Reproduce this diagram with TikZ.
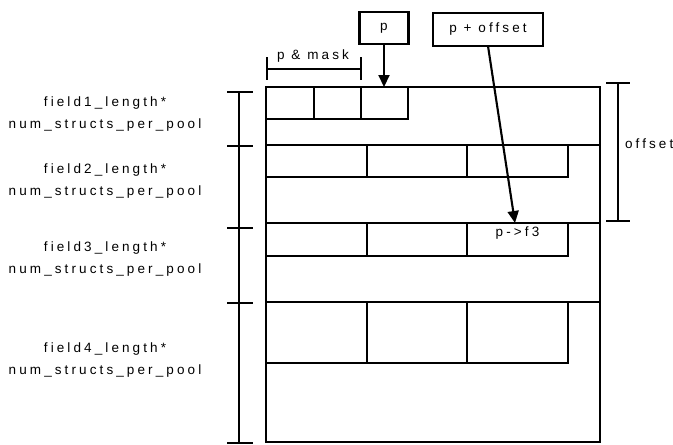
\documentclass[tikz,border=0pt]{standalone}
\usepackage{fontspec}
\setmainfont{Liberation Sans}[LetterSpace=23]
\usetikzlibrary{arrows.meta}
\begin{document}
\begin{tikzpicture}[x=1pt,y=-1pt,line width=2.1pt,
  cell/.style={draw,rectangle,inner sep=0pt,outer sep=0pt,anchor=north west},
  lbl/.style={font=\fontsize{13.5}{22}\selectfont,align=center,inner sep=0pt},
  ptr/.style={draw,rectangle,inner sep=0pt,outer sep=0pt,font=\fontsize{13.5}{15}\selectfont},
  arr/.style={-{Triangle[length=12pt,width=11pt]},line width=2.1pt}]
\useasboundingbox (0,0) rectangle (673,445);
% field regions
\node[cell,minimum width=334pt,minimum height=58pt] (f1) at (266,87) {};
\node[cell,minimum width=334pt,minimum height=78pt] (f2) at (266,145) {};
\node[cell,minimum width=334pt,minimum height=79pt] (f3) at (266,223) {};
\node[cell,minimum width=334pt,minimum height=140pt] (f4) at (266,302) {};
% field 1 cells
\node[cell,minimum width=48pt,minimum height=32pt] (a1) at (266,87) {};
\node[cell,minimum width=47pt,minimum height=32pt] (a2) at (314,87) {};
\node[cell,minimum width=47pt,minimum height=32pt] (a3) at (361,87) {};
% field 2 cells
\node[cell,minimum width=101pt,minimum height=32pt] (b1) at (266,145) {};
\node[cell,minimum width=100pt,minimum height=32pt] (b2) at (367,145) {};
\node[cell,minimum width=101pt,minimum height=32pt] (b3) at (467,145) {};
% field 3 cells
\node[cell,minimum width=101pt,minimum height=33pt] (c1) at (266,223) {};
\node[cell,minimum width=100pt,minimum height=33pt] (c2) at (367,223) {};
\node[cell,minimum width=101pt,minimum height=33pt] (c3) at (467,223) {};
\node[lbl,anchor=north] (c3t) at ([yshift=-3pt]c3.north) {p->f3};
% field 4 cells
\node[cell,minimum width=101pt,minimum height=61pt] (d1) at (266,302) {};
\node[cell,minimum width=100pt,minimum height=61pt] (d2) at (367,302) {};
\node[cell,minimum width=101pt,minimum height=61pt] (d3) at (467,302) {};
% left bracket
\draw (239,92) -- (239,443);
\foreach \yy in {92,146,228,303,443} \draw (227,\yy) -- (253,\yy);
% labels
\node[lbl] (l1) at (105,114) {field1\_length*\\num\_structs\_per\_pool};
\node[lbl] (l2) at (105,181) {field2\_length*\\num\_structs\_per\_pool};
\node[lbl] (l3) at (105,259) {field3\_length*\\num\_structs\_per\_pool};
\node[lbl] (l4) at (105,360) {field4\_length*\\num\_structs\_per\_pool};
% p & mask bracket
\draw (267,57) -- (267,80);
\draw (361,57) -- (361,80);
\draw (267,69) -- (361,69);
\node[lbl,anchor=base] (mask) at (313,59) {p \& mask};
% pointer boxes
\node[ptr,minimum width=49pt,minimum height=32pt] (p) at (384,28) {p};
\node[ptr,minimum width=110pt,minimum height=33pt] (po) at (488,29.5) {p + offset};
\coordinate (pend) at (384,87);
\coordinate (poend) at (515,223);
\draw[arr] (p.south) -- (pend);
\draw[arr] (po.south) -- (poend);
% offset bracket
\draw (618,83) -- (618,221);
\draw (606,83) -- (630,83);
\draw (606,221) -- (630,221);
\node[lbl,anchor=west] (off) at (624,144) {offset};
\end{tikzpicture}
\end{document}
